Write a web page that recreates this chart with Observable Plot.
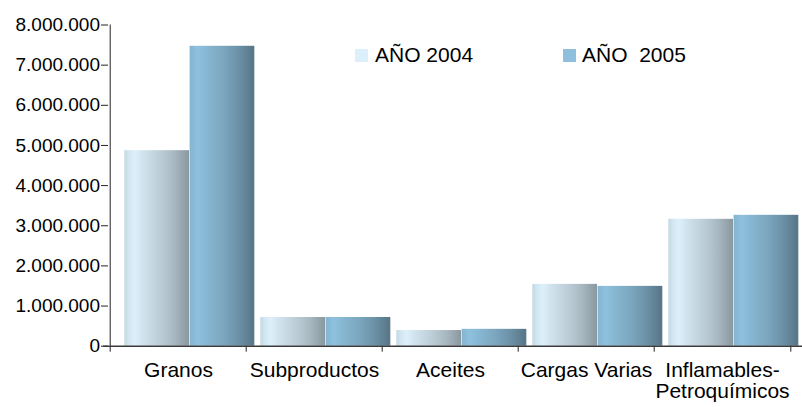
<!DOCTYPE html>
<html><head><meta charset="utf-8">
<script src="https://cdn.jsdelivr.net/npm/d3@7"></script>
<script src="https://cdn.jsdelivr.net/npm/@observablehq/plot@0.6"></script>
<style>
body{margin:0;background:#fff;}
#chart{position:relative;width:802px;height:407px;font-family:"Liberation Sans",Arial,sans-serif;color:#000;}
.sw{position:absolute;width:13px;height:13px;}
.lt{position:absolute;font-size:21px;line-height:21px;white-space:pre;}
</style></head><body><div id="chart"></div>
<script>
const categories = ["Granos", "Subproductos", "Aceites", "Cargas Varias", "Inflamables-Petroquímicos"];
const values2004 = [4870000, 715000, 390000, 1540000, 3160000];
const values2005 = [7470000, 715000, 420000, 1490000, 3260000];
const seriesLabels = ["AÑO 2004", "AÑO  2005"];
const swatchColors = ["#dbf0fb", "#8ec0dd"];
const yTicks = [0, 1000000, 2000000, 3000000, 4000000, 5000000, 6000000, 7000000, 8000000];

const rows2004 = categories.map((c, i) => ({cat: c, value: values2004[i]}));
const rows2005 = categories.map((c, i) => ({cat: c, value: values2005[i]}));

const locale = d3.formatLocale({decimal: ",", thousands: ".", grouping: [3], currency: ["", ""]});
const fmt = locale.format(",.0f");

const W = 802, H = 407, mL = 108, mR = 11, mT = 24.5, mB = 61.3;
const step = (W - mL - mR) / categories.length;
const plotH = H - mT - mB;

const plot = Plot.plot({
  width: W, height: H,
  marginLeft: mL, marginRight: mR, marginTop: mT, marginBottom: mB,
  style: {fontFamily: "'Liberation Sans', Arial, sans-serif", color: "#000", background: "#fff", overflow: "visible"},
  x: {domain: categories, padding: 0, label: null, axis: null},
  y: {domain: [0, 8000000], label: null, axis: null},
  marks: [
    Plot.barY(rows2004, {x: "cat", y: "value", fill: "url(#g2004)", insetLeft: 14.3, insetRight: step - 79.6}),
    Plot.barY(rows2005, {x: "cat", y: "value", fill: "url(#g2005)", insetLeft: 79.6, insetRight: step - 144.9}),
    Plot.axisY({ticks: yTicks, tickFormat: fmt, tickSize: 7, tickPadding: 1.5, label: null, fontSize: 19, stroke: "#222"}),
    Plot.axisX({tickSize: 0, tickPadding: 16.3, tickFormat: d => d.replace("-", "-\n"), fontSize: 21, lineHeight: 1.0, label: null}),
    Plot.ruleX([categories[0]], {x: d => d, dx: -step / 2, insetBottom: -6, stroke: "#222"}),
    Plot.ruleX(categories.slice(1), {x: d => d, dx: -step / 2, insetTop: plotH, insetBottom: -6, stroke: "#222"}),
    Plot.ruleX(categories.slice(-1), {x: d => d, dx: step / 2, insetTop: plotH, insetBottom: -6, stroke: "#222"}),
    Plot.ruleY([0], {insetLeft: -5, insetRight: -11, stroke: "#3a3a3a", strokeWidth: 1.6})
  ]
});

const defs = document.createElementNS("http://www.w3.org/2000/svg", "defs");
defs.innerHTML = `
<linearGradient id="g2004" x1="0" x2="1" y1="0" y2="0">
  <stop offset="0" stop-color="#c4d9e4"/>
  <stop offset="0.08" stop-color="#d3e8f3"/>
  <stop offset="0.16" stop-color="#dcf0fb"/>
  <stop offset="0.32" stop-color="#cee0ea"/>
  <stop offset="0.52" stop-color="#bfd0da"/>
  <stop offset="0.76" stop-color="#a9b9c2"/>
  <stop offset="1" stop-color="#8a979f"/>
</linearGradient>
<linearGradient id="g2005" x1="0" x2="1" y1="0" y2="0">
  <stop offset="0" stop-color="#83b4d0"/>
  <stop offset="0.12" stop-color="#8ec1de"/>
  <stop offset="0.32" stop-color="#85b3cd"/>
  <stop offset="0.52" stop-color="#7ba6be"/>
  <stop offset="0.76" stop-color="#6b91a6"/>
  <stop offset="1" stop-color="#577585"/>
</linearGradient>`;
plot.insertBefore(defs, plot.firstChild);

const chart = document.getElementById("chart");
chart.appendChild(plot);

const legendPos = [{sw: 355, tx: 375}, {sw: 563, tx: 582}];
seriesLabels.forEach((lab, i) => {
  const s = document.createElement("div");
  s.className = "sw";
  s.style.left = legendPos[i].sw + "px";
  s.style.top = "49px";
  s.style.background = swatchColors[i];
  chart.appendChild(s);
  const t = document.createElement("div");
  t.className = "lt";
  t.style.left = legendPos[i].tx + "px";
  t.style.top = "44px";
  t.textContent = lab;
  chart.appendChild(t);
});
</script></body></html>
